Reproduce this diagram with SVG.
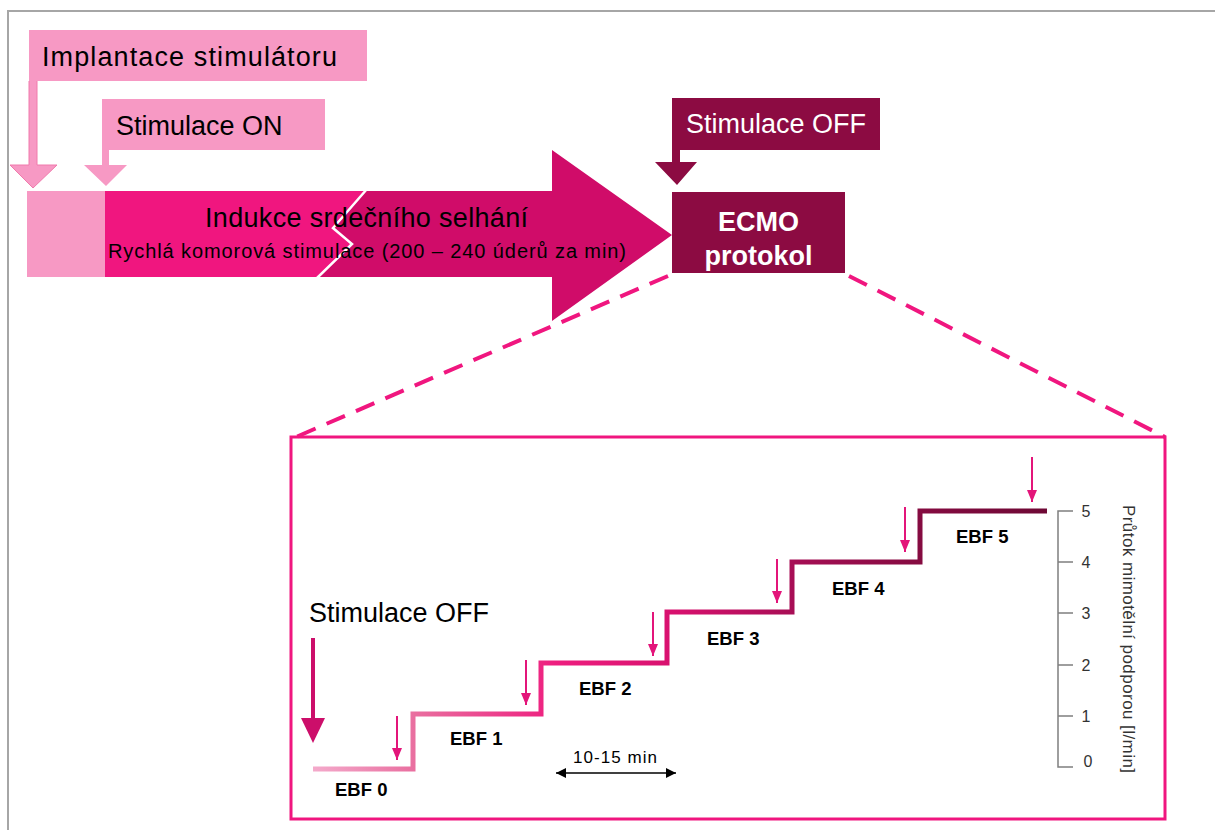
<svg xmlns="http://www.w3.org/2000/svg" width="1215" height="830" viewBox="0 0 1215 830">
<defs>
<style>
text{font-family:"Liberation Sans",Arial,sans-serif;}
.lp{fill:#F799C4;}
.dk{fill:#8C0B42;}
.big{font-size:27px;fill:#000;}
.wt{fill:#fff;}
.ebf{font-size:18.5px;font-weight:bold;fill:#000;}
.ax{font-size:16px;fill:#333;}
.sm{stroke:#E3157A;stroke-width:2;fill:none;}
.dash{stroke:#F0167F;stroke-width:4;stroke-dasharray:20 12;fill:none;}
</style>
<linearGradient id="stairs" gradientUnits="userSpaceOnUse" x1="313" y1="0" x2="1047" y2="0">
<stop offset="0" stop-color="#F4AACB"/>
<stop offset="0.14" stop-color="#E96E9F"/>
<stop offset="0.33" stop-color="#EE1E7F"/>
<stop offset="0.5" stop-color="#D6106D"/>
<stop offset="0.66" stop-color="#A50E54"/>
<stop offset="0.82" stop-color="#860B41"/>
<stop offset="1" stop-color="#6E0835"/>
</linearGradient>
<marker id="ah" markerWidth="12" markerHeight="10" refX="12" refY="5" orient="auto" markerUnits="userSpaceOnUse" viewBox="0 0 12 10">
<path d="M0,0 L12,5 L0,10 Z" fill="#E3157A"/>
</marker>
<marker id="bh" markerWidth="10" markerHeight="10" refX="10" refY="5" orient="auto-start-reverse" markerUnits="userSpaceOnUse" viewBox="0 0 10 10">
<path d="M0,0 L10,5 L0,10 Z" fill="#000"/>
</marker>
</defs>
<rect width="1215" height="830" fill="#fff"/>
<path d="M8,830 L8,11 L1215,11" fill="none" stroke="#A6A6A6" stroke-width="2"/>

<g id="implantace">
<path class="lp" d="M29,30 L367,30 L367,81 L37,81 L37,165 L57,165 L33,188 L10,165 L29,165 Z"/>
<path d="M29,81 L29,165 L10,165 L33,188 L57,165 L37,165 L37,81" fill="none" stroke="#F07AAC" stroke-width="1"/>
<text class="big" x="42" y="66" textLength="295" lengthAdjust="spacing">Implantace stimulátoru</text>
</g>

<g id="stimulace-on">
<path class="lp" d="M102,99 L325,99 L325,150 L109,150 L109,165 L127,165 L106,186 L84,165 L102,165 Z"/>
<text class="big" x="116" y="135">Stimulace ON</text>
</g>

<g id="indukce">
<rect class="lp" x="27" y="191" width="78" height="86"/>
<path d="M552,191 L552,150 L672,235 L552,321 L552,277 L318,277 L352,244 L333,228 L365,191 Z" fill="#D00C69"/>
<path d="M105,191 L365,191 L333,228 L352,244 L318,277 L105,277 Z" fill="#F0167F"/>
<path d="M367,189 L333,228 L352,244 L316,279" fill="none" stroke="#fff" stroke-width="2.5"/>
<text class="big" x="366.5" y="227" text-anchor="middle" font-size="27.5" textLength="323" lengthAdjust="spacing">Indukce srdečního selhání</text>
<text x="108" y="258" font-size="20" fill="#000" textLength="518" lengthAdjust="spacing">Rychlá komorová stimulace (200 – 240 úderů za min)</text>
</g>

<g id="stimulace-off-top">
<path class="dk" d="M672,98 L880,98 L880,150 L680,150 L680,162 L697,162 L677,185 L655,162 L672,162 Z"/>
<text class="big wt" x="686" y="133">Stimulace OFF</text>
</g>

<g id="ecmo">
<rect class="dk" x="672" y="192" width="173" height="81"/>
<text x="758.5" y="231" text-anchor="middle" font-size="27" font-weight="bold" fill="#fff">ECMO</text>
<text x="758.5" y="265" text-anchor="middle" font-size="27" font-weight="bold" fill="#fff">protokol</text>
</g>

<g id="connectors">
<line class="dash" x1="668" y1="276" x2="296" y2="437"/>
<line class="dash" x1="849" y1="276" x2="1165" y2="437"/>
</g>

<g id="ecmo-detail">
<rect x="291" y="437" width="874" height="382" fill="none" stroke="#F0167F" stroke-width="3"/>
<text class="big" x="309" y="622">Stimulace OFF</text>
<line x1="313" y1="638" x2="313" y2="720" stroke="#CC0E6A" stroke-width="4"/>
<path d="M301,718 L325,718 L313,743 Z" fill="#CC0E6A"/>

<path d="M313,769 L413,769 L413,714 L541,714 L541,663 L667,663 L667,612 L792,612 L792,562 L920,562 L920,511 L1047,511" fill="none" stroke="url(#stairs)" stroke-width="5"/>

<line class="sm" x1="397" y1="716" x2="397" y2="760" marker-end="url(#ah)"/>
<line class="sm" x1="526" y1="660" x2="526" y2="705" marker-end="url(#ah)"/>
<line class="sm" x1="653" y1="612" x2="653" y2="656" marker-end="url(#ah)"/>
<line class="sm" x1="777" y1="559" x2="777" y2="603" marker-end="url(#ah)"/>
<line class="sm" x1="905" y1="507" x2="905" y2="552" marker-end="url(#ah)"/>
<line class="sm" x1="1032" y1="457" x2="1032" y2="502" marker-end="url(#ah)"/>

<text class="ebf" x="335" y="796">EBF 0</text>
<text class="ebf" x="450" y="745">EBF 1</text>
<text class="ebf" x="579" y="695">EBF 2</text>
<text class="ebf" x="707" y="645">EBF 3</text>
<text class="ebf" x="832" y="595">EBF 4</text>
<text class="ebf" x="956" y="543">EBF 5</text>

<line x1="556" y1="773" x2="676" y2="773" stroke="#000" stroke-width="1.5" marker-start="url(#bh)" marker-end="url(#bh)"/>
<text x="573" y="763" font-size="17" fill="#000" textLength="84" lengthAdjust="spacing">10-15 min</text>

<path d="M1073,511 L1058,511 L1058,767 L1073,767 M1058,562 L1073,562 M1058,613 L1073,613 M1058,665 L1073,665 M1058,716 L1073,716" fill="none" stroke="#7F7F7F" stroke-width="1.5"/>
<text class="ax" x="1086" y="517" text-anchor="middle">5</text>
<text class="ax" x="1086" y="568" text-anchor="middle">4</text>
<text class="ax" x="1086" y="619" text-anchor="middle">3</text>
<text class="ax" x="1086" y="671" text-anchor="middle">2</text>
<text class="ax" x="1086" y="722" text-anchor="middle">1</text>
<text class="ax" x="1088" y="767" text-anchor="middle">0</text>
<text transform="translate(1123,639) rotate(90)" x="0" y="0" text-anchor="middle" font-size="17" fill="#333" textLength="268" lengthAdjust="spacing">Průtok mimotělní podporou [l/min]</text>
</g>
</svg>
